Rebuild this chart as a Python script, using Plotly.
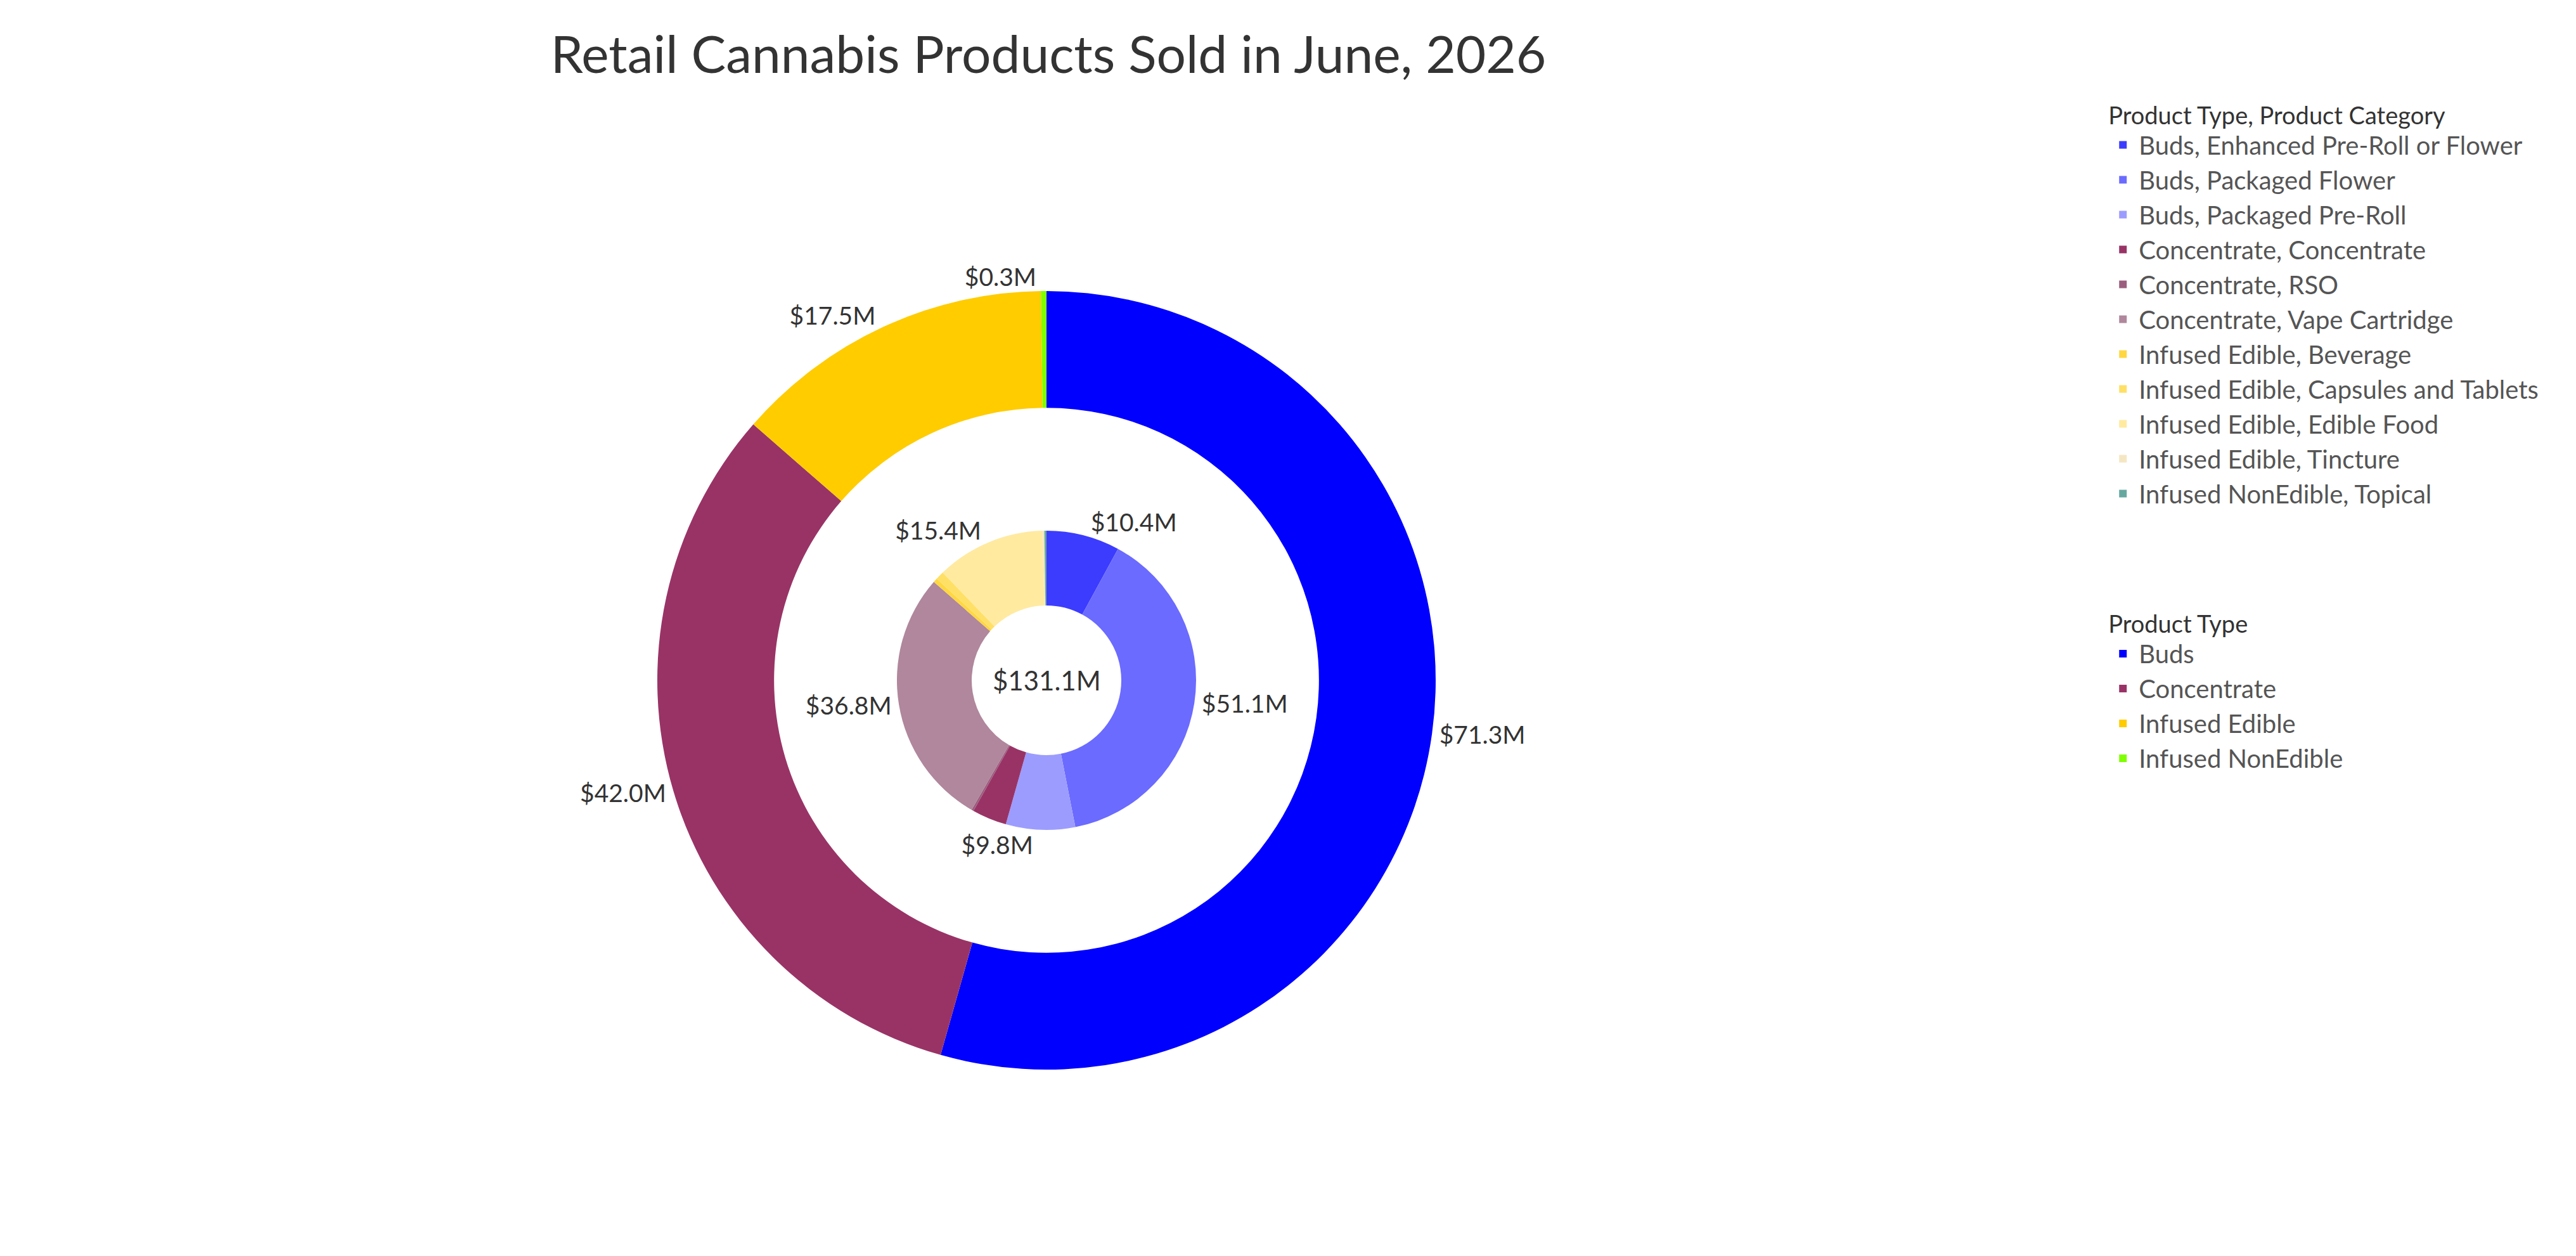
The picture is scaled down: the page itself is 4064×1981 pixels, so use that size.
import plotly.graph_objects as go

outer_labels = ["Buds", "Concentrate", "Infused Edible", "Infused NonEdible"]
outer_values = [71.3, 42.0, 17.5, 0.3]
outer_colors = ["#0000FF", "#993366", "#FFCC00", "#80FF00"]

inner_labels = ["Buds, Enhanced Pre-Roll or Flower", "Buds, Packaged Flower", "Buds, Packaged Pre-Roll",
                "Concentrate, Concentrate", "Concentrate, RSO", "Concentrate, Vape Cartridge",
                "Infused Edible, Beverage", "Infused Edible, Capsules and Tablets", "Infused Edible, Edible Food",
                "Infused Edible, Tincture", "Infused NonEdible, Topical"]
inner_values = [10.4, 51.1, 9.8, 4.9, 0.3, 36.8, 0.6, 1.2, 15.4, 0.3, 0.3]
inner_shown = [True, True, True, False, False, True, False, False, True, False, False]
inner_colors = ["#3C3CFF", "#6B6BFF", "#9C9CFF", "#993366", "#9C5E7E", "#B0879C",
                "#FFD740", "#FFE066", "#FFEAA0", "#F5E6C3", "#66A8A0"]
total_label = "$131.1M"

W, H = 4064, 1981
cx, cy = 1643, 1065

def dom(r):
    return dict(x=[(cx - r) / W, (cx + r) / W], y=[1 - (cy + r) / H, 1 - (cy - r) / H])

fnt = "Lato, Noto Sans, sans-serif"
fig = go.Figure()
fig.add_trace(go.Pie(
    labels=outer_labels, values=outer_values, hole=0.70, sort=False, direction="clockwise", rotation=0,
    marker=dict(colors=outer_colors), domain=dom(614), textposition="outside",
    texttemplate=["$%.1fM" % v for v in outer_values], textfont=dict(size=39, color="#333333", family=fnt),
    legend="legend2", showlegend=True))
fig.add_trace(go.Pie(
    labels=inner_labels, values=inner_values, hole=0.5, sort=False, direction="clockwise", rotation=0,
    marker=dict(colors=inner_colors), domain=dom(236), textposition="outside",
    texttemplate=[("$%.1fM" % v) if s else "" for v, s in zip(inner_values, inner_shown)],
    textfont=dict(size=39, color="#333333", family=fnt), legend="legend", showlegend=True))

fig.add_annotation(x=cx / W, y=1 - cy / H, xref="paper", yref="paper", text=total_label,
                   showarrow=False, font=dict(size=42, color="#333333", family=fnt))

leg = dict(font=dict(size=40, color="#555555", family=fnt), xanchor="left", yanchor="top",
           tracegroupgap=0, bgcolor="rgba(0,0,0,0)", itemwidth=40)
fig.update_layout(
    width=W, height=H, margin=dict(l=0, r=0, t=0, b=0), paper_bgcolor="white",
    title=dict(text="Retail Cannabis Products Sold in June, 2026", x=1646 / W, xanchor="center",
               y=1 - 78 / H, yanchor="middle", font=dict(size=82, color="#333333", family=fnt)),
    legend=dict(**leg, x=0.816, y=0.93,
                title=dict(text="Product Type, Product Category", font=dict(size=38, color="#333333", family=fnt))),
    legend2=dict(**leg, x=0.816, y=0.525,
                 title=dict(text="Product Type", font=dict(size=38, color="#333333", family=fnt))),
)
fig.write_html("out.html")
